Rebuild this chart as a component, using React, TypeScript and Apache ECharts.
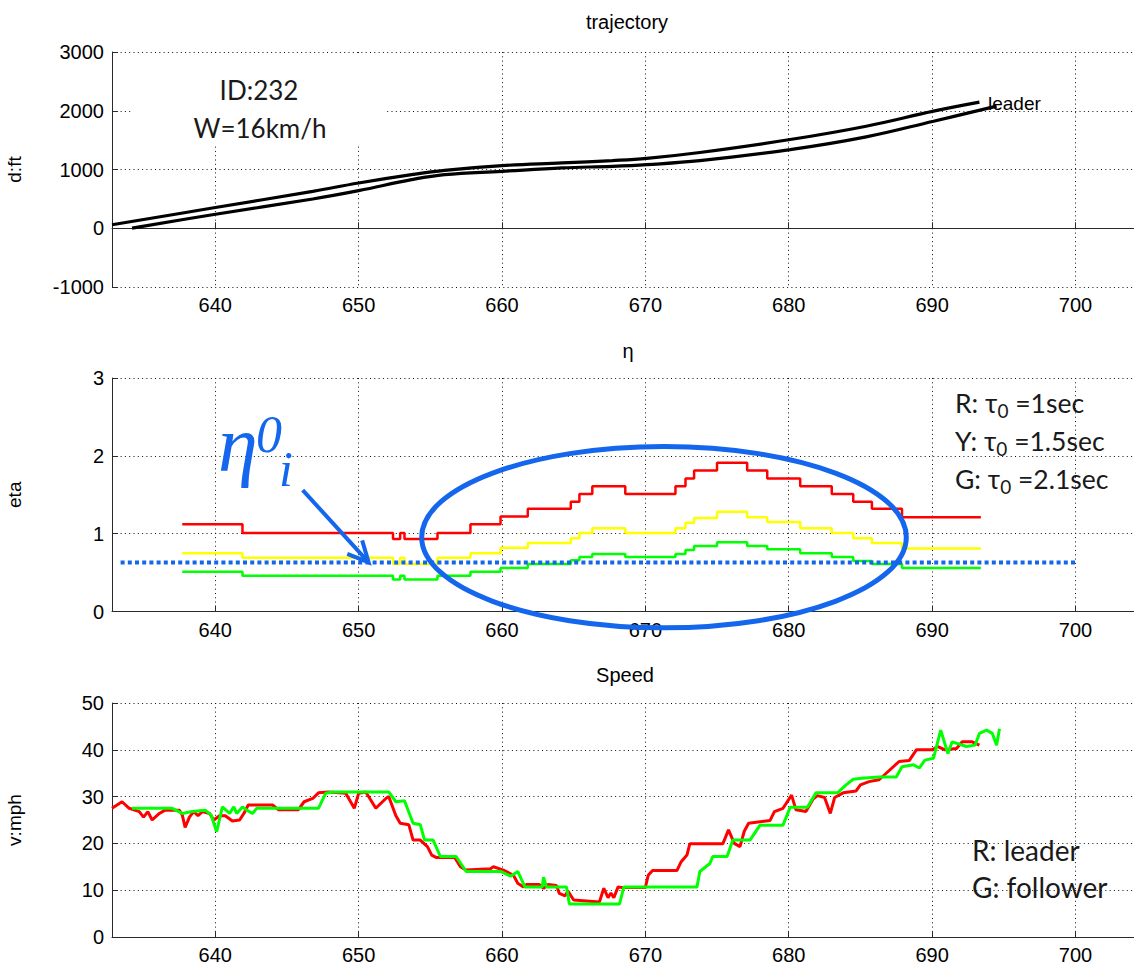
import React, { useEffect, useRef } from "react";
import * as echarts from "echarts";

// ---- data -------------------------------------------------------------
const xRange = [632.8, 704.5];

const titles = ["trajectory", "η", "Speed"];
const yNames = ["d:ft", "eta", "v:mph"];

// trajectory (distance in ft vs time)
const leaderTraj: [number, number][] = [
  [632.8, 60], [639.8, 344], [646.8, 628], [650.0, 771], [653.7, 913], [656.0, 986],
  [660.0, 1066], [664.2, 1112], [667.7, 1152], [670.1, 1190], [673.8, 1290],
  [680.1, 1510], [685.4, 1737], [690.1, 1993], [693.3, 2146],
];
const followerTraj: [number, number][] = [
  [634.2, 3], [639.8, 230], [646.8, 498], [650.0, 640], [653.7, 827], [656.0, 913],
  [660.0, 969], [664.2, 1027], [667.7, 1054], [670.1, 1083], [673.8, 1150],
  [680.1, 1339], [685.4, 1556], [690.1, 1822], [694.5, 2078],
];

// eta step series for three tau_0 values
const etaRed: [number, number][] = [
  [637.7, 1.12], [641.9, 1.01], [652.4, 0.93], [652.9, 1.01], [653.2, 0.93], [655.5, 1.01],
  [657.8, 1.12], [659.9, 1.22], [661.8, 1.32], [664.8, 1.41], [665.4, 1.51], [666.3, 1.61],
  [668.6, 1.51], [672.1, 1.61], [672.8, 1.71], [673.4, 1.81], [675.0, 1.91], [677.1, 1.81],
  [678.5, 1.71], [680.8, 1.61], [683.0, 1.51], [684.5, 1.41], [685.8, 1.32], [687.9, 1.21],
  [693.4, 1.21],
];
const etaYellow: [number, number][] = [
  [637.7, 0.75], [641.9, 0.69], [652.4, 0.61], [652.9, 0.69], [653.2, 0.61], [655.5, 0.69],
  [657.8, 0.75], [659.9, 0.82], [661.8, 0.88], [664.8, 0.94], [665.4, 1.01], [666.3, 1.07],
  [668.6, 1.01], [672.1, 1.07], [672.8, 1.14], [673.4, 1.2], [675.0, 1.28], [677.1, 1.21],
  [678.5, 1.15], [680.8, 1.07], [683.0, 1.01], [684.5, 0.94], [685.8, 0.88], [687.9, 0.81],
  [693.4, 0.81],
];
const etaGreen: [number, number][] = [
  [637.7, 0.51], [641.9, 0.46], [652.4, 0.41], [652.9, 0.46], [653.2, 0.41], [655.5, 0.46],
  [657.8, 0.51], [659.9, 0.56], [661.8, 0.61], [664.8, 0.66], [665.4, 0.7], [666.3, 0.74],
  [668.6, 0.7], [672.1, 0.74], [672.8, 0.79], [673.4, 0.84], [675.0, 0.89], [677.1, 0.84],
  [678.5, 0.8], [680.8, 0.75], [683.0, 0.7], [684.5, 0.65], [685.8, 0.61], [687.9, 0.56],
  [693.4, 0.56],
];
const etaRef = 0.63;
const etaRefSpan = [633.4, 700];

// speed (mph)
const speedLeader: [number, number][] = [
  [632.8, 27.5], [633.5, 28.9], [634.0, 27.5], [634.7, 26.8], [635.0, 25.6], [635.3, 26.8],
  [635.6, 25.0], [636.1, 26.4], [636.5, 27.1], [637.5, 27.1], [637.7, 26.1], [637.9, 23.4],
  [638.2, 25.6], [638.5, 26.8], [638.8, 25.9], [639.1, 26.8], [639.6, 26.4], [639.9, 25.0],
  [640.3, 25.9], [640.7, 25.9], [641.2, 24.8], [641.7, 25.0], [642.0, 26.4], [642.3, 28.2],
  [644.0, 28.2], [644.4, 27.2], [645.8, 27.2], [646.2, 28.9], [646.8, 29.6], [647.2, 30.8],
  [647.9, 31.0], [649.1, 30.7], [649.7, 27.5], [650.0, 30.7], [650.5, 31.0], [651.2, 27.5],
  [651.9, 29.6], [652.1, 30.0], [652.6, 25.9], [652.9, 24.3], [653.5, 24.0], [653.8, 20.7],
  [654.3, 20.7], [654.8, 19.3], [655.1, 17.5], [655.4, 17.0], [656.7, 17.0], [657.1, 15.0],
  [657.5, 14.3], [659.2, 14.6], [659.4, 15.0], [660.1, 14.3], [660.8, 13.2], [661.1, 11.5],
  [661.5, 10.7], [661.7, 11.2], [662.6, 11.2], [662.9, 10.4], [663.2, 11.2], [663.8, 11.0],
  [664.0, 9.3], [664.4, 8.8], [664.6, 9.8], [665.0, 7.9], [666.8, 7.5], [667.1, 10.4],
  [667.4, 8.4], [667.6, 9.4], [667.8, 8.4], [668.1, 10.7], [668.3, 10.6], [670.0, 10.6],
  [670.2, 13.2], [670.5, 14.2], [672.2, 14.2], [672.5, 16.1], [672.9, 17.5], [673.1, 19.9],
  [675.4, 19.9], [675.8, 22.9], [676.2, 20.0], [676.6, 19.3], [676.9, 22.6], [677.2, 24.3],
  [678.7, 24.9], [679.0, 26.8], [679.6, 27.5], [680.2, 30.3], [680.5, 27.2], [681.2, 26.8],
  [681.7, 29.5], [682.0, 30.2], [682.5, 29.8], [682.9, 26.4], [683.2, 29.8], [683.8, 30.8],
  [684.7, 31.2], [685.0, 32.5], [685.6, 33.2], [686.3, 33.6], [687.7, 37.5], [688.4, 37.7],
  [688.9, 40.0], [690.0, 40.0], [690.4, 40.7], [690.9, 40.0], [691.7, 40.3], [692.1, 41.7],
  [692.8, 41.7], [693.3, 41.0],
];
const speedFollower: [number, number][] = [
  [634.2, 27.5], [637.0, 27.5], [637.7, 26.4], [638.4, 26.8], [639.3, 27.1], [639.7, 26.1],
  [640.1, 22.5], [640.5, 27.8], [641.0, 26.4], [641.3, 27.8], [641.5, 26.4], [641.9, 27.8],
  [642.2, 27.1], [642.6, 26.4], [642.9, 27.5], [647.2, 27.5], [647.7, 30.7], [648.2, 31.0],
  [652.1, 31.0], [652.6, 28.9], [653.2, 29.1], [653.8, 24.3], [654.3, 24.0], [654.6, 20.7],
  [655.2, 20.7], [655.7, 17.2], [656.8, 17.2], [657.5, 14.0], [659.9, 14.0], [660.6, 13.0],
  [661.1, 14.0], [661.6, 10.7], [662.8, 10.7], [662.9, 12.8], [663.1, 10.7], [664.5, 10.7],
  [664.7, 7.05], [668.2, 7.05], [668.5, 10.7], [673.6, 10.7], [673.8, 14.0], [674.5, 15.7],
  [674.7, 17.2], [675.7, 17.2], [676.1, 20.7], [677.3, 20.7], [678.0, 23.9], [679.6, 23.9],
  [680.1, 27.7], [681.3, 27.7], [681.9, 30.8], [683.4, 30.8], [684.0, 32.5], [684.5, 33.7],
  [685.1, 33.9], [686.3, 34.2], [687.5, 34.2], [687.9, 36.4], [688.7, 36.8], [689.1, 36.1],
  [689.5, 37.8], [690.1, 38.2], [690.6, 44.2], [691.1, 39.2], [691.4, 41.7], [692.4, 40.7],
  [693.0, 41.0], [693.3, 43.5], [693.8, 44.2], [694.2, 43.5], [694.5, 41.0], [694.7, 44.5],
];

const yRanges = [
  { min: -1000, max: 3000, interval: 1000 },
  { min: 0, max: 3, interval: 1 },
  { min: 0, max: 50, interval: 10 },
];

// ---- layout ------------------------------------------------------------
const gridLeft = 112;
const gridWidth = 1028;
const grids = [
  { top: 52, height: 235 },
  { top: 378, height: 233.5 },
  { top: 703, height: 234 },
];

const AXIS_FONT = "'Liberation Sans', Arial, sans-serif";
const NOTE_FONT = "Lato, 'Open Sans', sans-serif";
const SERIF = "'Liberation Serif', 'DejaVu Serif', serif";
const BLUE = "#1466ec";

export default function App() {
  const ref = useRef<HTMLDivElement>(null);

  useEffect(() => {
    if (!ref.current) return;
    const chart = echarts.init(ref.current, undefined, { renderer: "svg" });

    const gridSpec = grids.map((g) => ({
      left: gridLeft,
      width: gridWidth,
      top: g.top,
      height: g.height,
      outerBoundsMode: "none",
      containLabel: false,
    }));

    const plain = (v: number) => String(v);

    const xAxes = grids.map((_, i) => ({
      type: "value",
      gridIndex: i,
      min: xRange[0],
      max: xRange[1],
      splitNumber: 7,
      axisLine: { show: true, lineStyle: { color: "#2a2a2a", width: 1 } },
      axisTick: { show: true, inside: true, length: 6, lineStyle: { color: "#2a2a2a" } },
      axisLabel: {
        show: true,
        showMinLabel: false,
        showMaxLabel: false,
        color: "#000",
        fontFamily: AXIS_FONT,
        fontSize: 20,
        margin: 8,
        formatter: plain,
      },
      splitLine: { show: true, lineStyle: { color: "#111", type: [1, 3.3], width: 1 } },
    }));

    const yAxes = grids.map((_, i) => ({
      type: "value",
      gridIndex: i,
      min: yRanges[i].min,
      max: yRanges[i].max,
      interval: yRanges[i].interval,
      name: yNames[i],
      nameLocation: "middle",
      nameGap: 88,
      nameRotate: 90,
      nameTextStyle: { color: "#000", fontFamily: AXIS_FONT, fontSize: 19 },
      axisLine: { show: true, onZero: false, lineStyle: { color: "#2a2a2a", width: 1 } },
      axisTick: { show: true, inside: true, length: 6, lineStyle: { color: "#2a2a2a" } },
      axisLabel: { color: "#000", fontFamily: AXIS_FONT, fontSize: 20, margin: 8, formatter: plain },
      splitLine: { show: true, lineStyle: { color: "#111", type: [1, 3.3], width: 1 } },
    }));

    const line = (
      name: string,
      data: [number, number][],
      idx: number,
      color: string,
      width: number,
      extra: any = {}
    ) => ({
      name,
      type: "line",
      xAxisIndex: idx,
      yAxisIndex: idx,
      data,
      showSymbol: false,
      symbol: "none",
      silent: true,
      lineStyle: { color, width },
      itemStyle: { color },
      ...extra,
    });

    chart.setOption({
      animation: false,
      backgroundColor: "#fff",
      grid: gridSpec,
      xAxis: xAxes,
      yAxis: yAxes,
      series: [
        line("leader", leaderTraj, 0, "#000", 3.2, { smooth: 0.4 }),
        line("follower", followerTraj, 0, "#000", 3.2, { smooth: 0.4 }),
        line("R", etaRed, 1, "#ff0000", 2.5, { step: "end" }),
        line("Y", etaYellow, 1, "#ffff00", 2.5, { step: "end" }),
        line("G", etaGreen, 1, "#00ff00", 2.5, { step: "end" }),
        line(
          "eta0",
          [
            [etaRefSpan[0], etaRef],
            [etaRefSpan[1], etaRef],
          ],
          1,
          BLUE,
          4,
          { lineStyle: { color: BLUE, width: 4, type: [4, 3.2] }, z: 4 }
        ),
        line("leader speed", speedLeader, 2, "#ff0000", 3),
        line("follower speed", speedFollower, 2, "#00ff00", 3, { z: 3 }),
      ],
    });

    // annotations positioned from data coordinates of the eta panel
    const px = (p: [number, number]) =>
      chart.convertToPixel({ xAxisIndex: 1, yAxisIndex: 1 }, p) as number[];
    const eL = px([654.4, 0.96]);
    const eR = px([688.2, 0.96]);
    const eT = px([671.3, 2.12]);
    const eB = px([671.3, -0.21]);
    const cx = (eL[0] + eR[0]) / 2;
    const cy = (eT[1] + eB[1]) / 2;
    const rx = (eR[0] - eL[0]) / 2;
    const ry = (eB[1] - eT[1]) / 2;

    const aStart = px([646.1, 1.56]);
    const aTip = px([650.7, etaRef]);
    const ang = Math.atan2(aStart[1] - aTip[1], aStart[0] - aTip[0]);
    const wing = 23;
    const spread = (26 * Math.PI) / 180;
    const w1 = [aTip[0] + wing * Math.cos(ang - spread), aTip[1] + wing * Math.sin(ang - spread)];
    const w2 = [aTip[0] + wing * Math.cos(ang + spread), aTip[1] + wing * Math.sin(ang + spread)];

    const txt = (
      x: number,
      y: number,
      text: string,
      size: number,
      family: string,
      extra: any = {}
    ) => ({
      type: "text",
      x,
      y,
      z: 20,
      silent: true,
      style: {
        text,
        fill: "#000",
        fontSize: size,
        fontFamily: family,
        textAlign: "left",
        align: "left",
        textVerticalAlign: "middle",
        verticalAlign: "middle",
        ...extra,
      },
    });

    const tauRich = {
      s: { fontSize: 19, fontFamily: NOTE_FONT, fill: "#1a1a1a", padding: [14, 0, 0, 0] },
    };
    const tauLine = (y: number, text: string) =>
      txt(955, y, text, 26.5, NOTE_FONT, { rich: tauRich, fill: "#1a1a1a" });

    chart.setOption({
      graphic: [
        // titles
        txt(627, 22, titles[0], 20, AXIS_FONT, { textAlign: "center", align: "center" }),
        txt(628, 351, titles[1], 20, AXIS_FONT, { textAlign: "center", align: "center" }),
        txt(625, 675, titles[2], 20, AXIS_FONT, { textAlign: "center", align: "center" }),
        // trajectory note box
        {
          type: "rect",
          z: 10,
          silent: true,
          shape: { x: 132, y: 54, width: 255, height: 92 },
          style: { fill: "#fff" },
        },
        txt(259, 90, "ID:232", 26, NOTE_FONT, { textAlign: "center", align: "center", fill: "#1a1a1a" }),
        txt(260, 128, "W=16km/h", 26, NOTE_FONT, { textAlign: "center", align: "center", fill: "#1a1a1a" }),
        txt(988, 103, "leader", 19, AXIS_FONT),
        // eta panel annotations
        {
          type: "ellipse",
          z: 15,
          silent: true,
          shape: { cx, cy, rx, ry },
          style: { fill: "none", stroke: BLUE, lineWidth: 5 },
        },
        {
          type: "polyline",
          z: 15,
          silent: true,
          shape: { points: [aStart, aTip] },
          style: { stroke: BLUE, lineWidth: 4, fill: "none" },
        },
        {
          type: "polyline",
          z: 15,
          silent: true,
          shape: { points: [w1, aTip, w2] },
          style: { stroke: BLUE, lineWidth: 4, fill: "none", lineJoin: "miter" },
        },
        txt(218, 444, "η", 80, SERIF, { fill: BLUE, fontStyle: "italic" }),
        txt(256, 434, "0", 52, SERIF, { fill: BLUE, fontStyle: "italic" }),
        txt(279, 469, "i", 50, SERIF, { fill: BLUE, fontStyle: "italic" }),
        tauLine(403, "R: τ{s|0} =1sec"),
        tauLine(441, "Y: τ{s|0} =1.5sec"),
        tauLine(479, "G: τ{s|0} =2.1sec"),
        // speed panel notes
        txt(972, 850, "R: leader", 28, NOTE_FONT, { fill: "#1a1a1a" }),
        txt(972, 887, "G: follower", 28, NOTE_FONT, { fill: "#1a1a1a" }),
      ],
    });

    return () => chart.dispose();
  }, []);

  return (
    <div
      ref={ref}
      style={{ position: "fixed", left: 0, top: 0, width: 1134, height: 970, background: "#fff" }}
    />
  );
}
